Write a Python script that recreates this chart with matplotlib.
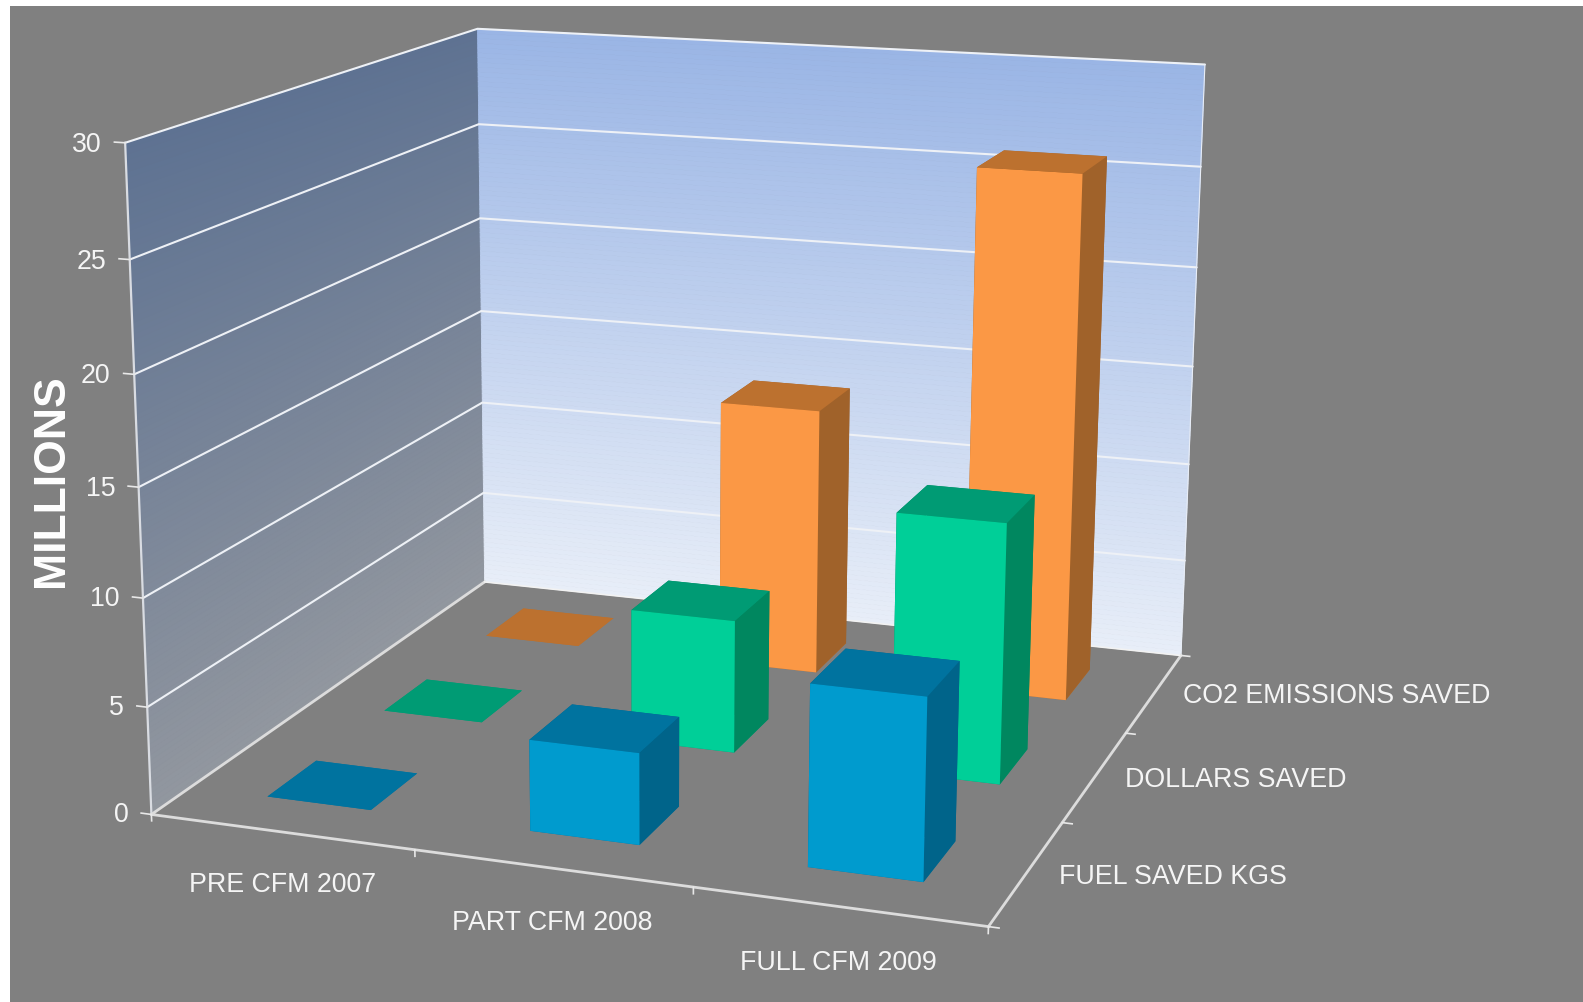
import numpy as np
import matplotlib
matplotlib.use('Agg')
import matplotlib.pyplot as plt
from matplotlib.colors import to_rgb
from matplotlib.patches import Rectangle
from mpl_toolkits.mplot3d.art3d import Poly3DCollection

plt.rcParams['font.family'] = ['Liberation Sans', 'DejaVu Sans']

categories = ['PRE CFM 2007', 'PART CFM 2008', 'FULL CFM 2009']
series = ['FUEL SAVED KGS', 'DOLLARS SAVED', 'CO2 EMISSIONS SAVED']
fuel_saved = [0, 4.2, 8.2]
dollars_saved = [0, 6.4, 12.3]
co2_saved = [0, 13.4, 25.9]
z_ticks = [0, 5, 10, 15, 20, 25, 30]
axis_title = 'MILLIONS'

# (front, side, top) shades per series
shades = [('#009bce', '#00648a', '#00739f'),
          ('#00cf98', '#00875f', '#009b74'),
          ('#fb9845', '#a0622a', '#bc712f')]

W, H = 1583, 1002
fig = plt.figure(figsize=(W / 100, H / 100), dpi=100, facecolor='white')
fig.patches.append(Rectangle((10 / W, 0), 1 - 10 / W, 1 - 6 / H, transform=fig.transFigure,
                             facecolor='#808080', edgecolor='none', zorder=-10))
ax = fig.add_axes([0, 0, 1, 1], projection='3d')
ax.patch.set_visible(False)
ax.set_axis_off()
ax.computed_zorder = False
ax.apply_aspect = lambda position=None: None

# Camera: fitted from where the chart frame's ticks fall on the page
frame_world = [(0,0,0),(3,0,0),(3,3,0),(0,3,0),(0,0,30),(0,3,30),(3,3,30),(0,0,25),(0,3,25),(0,3,20),
               (3,3,25),(3,3,10),(3,3,5),(0,0,10),(0,0,5),(1,0,0),(2,0,0),(3,1,0),(3,2,0)]
frame_page = [(152,813),(987,925),(1180,656),(485,583),(125,143),(477,29),(1205,65),(130,259),(478,124),(480,218),
              (1202,168),(1188,463),(1185,559),(143,597),(148,706),(414,853),(693,890),(1063,822),(1127,733)]
A = []
for (X, Y, Z), (u, v) in zip(frame_world, frame_page):
    A.append([X, Y, Z, 1, 0, 0, 0, 0, -u*X, -u*Y, -u*Z, -u])
    A.append([0, 0, 0, 0, X, Y, Z, 1, -v*X, -v*Y, -v*Z, -v])
P = np.linalg.svd(np.array(A, float))[2][-1].reshape(3, 4)
if P[2] @ np.array([1.5, 1.5, 0, 1]) < 0:
    P = -P
P = P / np.linalg.norm(P[2, :3])

def camera():
    flip = np.array([[1, 0, 0], [0, -1, H], [0, 0, 1]], float)
    Q = np.linalg.inv(ax.transData.get_matrix()) @ flip @ P
    return np.array([Q[0], Q[1], [0, 0, 0, -1], Q[2]])
ax.get_proj = camera

def page_text(x, y, z, s, **kw):
    q = P @ np.array([x, y, z, 1.0])
    fig.text(q[0] / q[2] / W, 1 - q[1] / q[2] / H, s, **kw)

ax.set_xlim(0, 3); ax.set_ylim(0, 3); ax.set_zlim(0, 30)

# Walls with vertical gradient
def wall(corner_a, corner_b, top, bottom):
    levels = np.linspace(0, 30, 121)
    c_top, c_bot = np.array(to_rgb(top)), np.array(to_rgb(bottom))
    verts, cols = [], []
    for lo, hi in zip(levels[:-1], levels[1:]):
        verts.append([(*corner_a, lo), (*corner_b, lo), (*corner_b, hi), (*corner_a, hi)])
        cols.append(c_bot + (c_top - c_bot) * (lo + hi) / 60)
    ax.add_collection3d(Poly3DCollection(verts, facecolors=cols, edgecolors=cols, linewidths=0.6, zorder=1))
wall((0, 0), (0, 3), '#5e7292', '#92979f')
wall((0, 3), (3, 3), '#9ab5e5', '#e8eef8')

# Gridlines
grid = dict(color='#eef1f6', lw=1.5, solid_capstyle='round', zorder=2)
for z in z_ticks[1:]:
    ax.plot([0, 0, 3], [0, 3, 3], [z, z, z], **grid)
edge = dict(color='#d9dce2', lw=1.6, zorder=2)
ax.plot([0, 0], [0, 0], [0, 30], **edge)
ax.plot([3, 3], [3, 3], [0, 30], color='#e8edf6', lw=0.8, zorder=2)
floor = dict(color='#dcdcdc', lw=2.0, zorder=2)
ax.plot([3, 0, 0], [0, 0, 3], [0, 0, 0], **floor)
ax.plot([3, 3], [0, 3], [0, 0], **floor)
ax.plot([0, 3], [3, 3], [0, 0], color='#f2f2f2', lw=1.2, zorder=2)

# Ticks
tick = dict(color='#e8e8e8', lw=1.2, zorder=2)
for x in range(4):
    ax.plot([x, x], [0, 0], [0, -0.3], **tick)
for y in range(4):
    ax.plot([3, 3.035], [y, y], [0, 0], **tick)
for z in z_ticks:
    ax.plot([0, -0.04], [0, 0], [z, z], **tick)

# Bars
values = [fuel_saved, dollars_saved, co2_saved]
order = 3
for j in reversed(range(3)):
    front, side, top = shades[j]
    for i in range(3):
        face_cols = [top, top, front, side, side, side]
        ax.bar3d(i + 0.3, j + 0.3, 0, 0.4, 0.4, values[j][i], color=face_cols, shade=False,
                 linewidth=0.3, edgecolor=None, zorder=order)
        order += 1

# Labels
lab = dict(color='#f5f5f5', fontsize=19.3)
for i, name in enumerate(categories):
    page_text(i + 0.5, 0, -2.5, name, ha='center', va='center', **lab)
for j, name in enumerate(series):
    page_text(3.11, j + 0.5, 0.0, name, ha='left', va='center', **lab)
for z in z_ticks:
    page_text(-0.09, 0, z - 0.17, str(z), ha='right', va='center', **lab)
fig.text(51 / W, 1 - 481 / H, axis_title, rotation=90, ha='center', va='center',
         color='white', fontsize=32, fontweight='bold')

fig.savefig('out.png', dpi=100, facecolor='white')
